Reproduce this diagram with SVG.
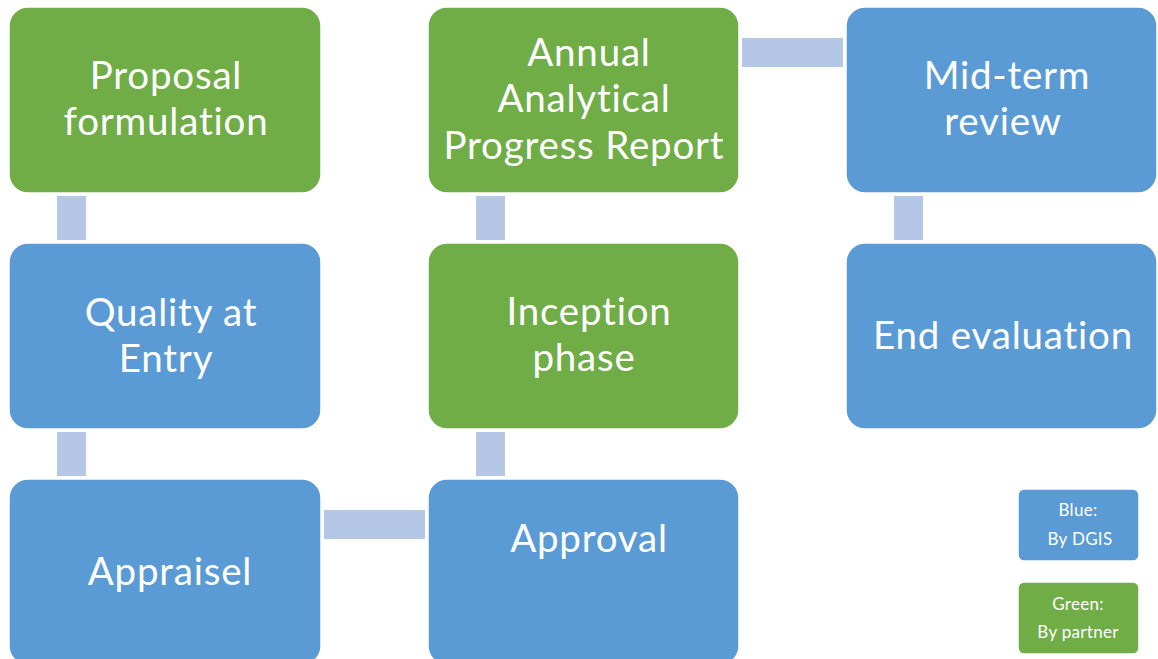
<svg xmlns="http://www.w3.org/2000/svg" width="1158" height="659" viewBox="0 0 1158 659">
  <style>
    .blue { fill: #5B9BD5; stroke: #FFFFFF; stroke-width: 1.5; }
    .green { fill: #70AD47; stroke: #FFFFFF; stroke-width: 1.5; }
    .link { fill: #B4C7E7; }
    .label { font-family: "Lato", "Liberation Sans", sans-serif; font-size: 38.5px; letter-spacing: 0.8px; font-variant-ligatures: none; fill: #FFFFFF; text-anchor: middle; }
    .small { font-family: "Lato", "Liberation Sans", sans-serif; font-size: 17px; letter-spacing: 0.3px; fill: #FFFFFF; text-anchor: middle; }
  </style>
  <rect width="1158" height="659" fill="#FFFFFF"/>

  <!-- connectors between stages -->
  <g id="connectors">
    <rect class="link" x="57" y="196" width="29" height="44"/>
    <rect class="link" x="57" y="432" width="29" height="44"/>
    <rect class="link" x="324" y="510" width="101" height="29"/>
    <rect class="link" x="476" y="432" width="29" height="44"/>
    <rect class="link" x="476" y="196" width="29" height="44"/>
    <rect class="link" x="742" y="38" width="101" height="29"/>
    <rect class="link" x="894" y="196" width="29" height="44"/>
  </g>

  <g id="proposal">
    <rect class="green" x="9" y="7" width="312" height="186" rx="19"/>
    <text class="label" x="166" y="89">Proposal</text>
    <text class="label" x="166" y="135">formulation</text>
  </g>
  <g id="quality">
    <rect class="blue" x="9" y="243" width="312" height="186" rx="19"/>
    <text class="label" x="171" y="326">Quality at</text>
    <text class="label" x="166" y="372">Entry</text>
  </g>
  <g id="appraisel">
    <rect class="blue" x="9" y="479" width="312" height="186" rx="19"/>
    <text class="label" x="170" y="585">Appraisel</text>
  </g>
  <g id="approval">
    <rect class="blue" x="428" y="479" width="311" height="186" rx="19"/>
    <text class="label" x="589" y="552">Approval</text>
  </g>
  <g id="inception">
    <rect class="green" x="428" y="243" width="311" height="186" rx="19"/>
    <text class="label" x="589" y="325">Inception</text>
    <text class="label" x="584" y="371">phase</text>
  </g>
  <g id="annual-report">
    <rect class="green" x="428" y="7" width="311" height="186" rx="19"/>
    <text class="label" x="589" y="66">Annual</text>
    <text class="label" x="584" y="112">Analytical</text>
    <text class="label" x="584" y="159">Progress Report</text>
  </g>
  <g id="mid-term">
    <rect class="blue" x="846" y="7" width="311" height="186" rx="19"/>
    <text class="label" x="1007" y="89">Mid-term</text>
    <text class="label" x="1003" y="135">review</text>
  </g>
  <g id="end-evaluation">
    <rect class="blue" x="846" y="243" width="311" height="186" rx="19"/>
    <text class="label" x="1003" y="349">End evaluation</text>
  </g>

  <!-- legend -->
  <g id="legend-blue">
    <rect class="blue" x="1018" y="489" width="121" height="72" rx="6"/>
    <text class="small" x="1078" y="516">Blue:</text>
    <text class="small" x="1080" y="545">By DGIS</text>
  </g>
  <g id="legend-green">
    <rect class="green" x="1018" y="582" width="121" height="72" rx="6"/>
    <text class="small" x="1078" y="610">Green:</text>
    <text class="small" x="1078" y="638">By partner</text>
  </g>
</svg>
